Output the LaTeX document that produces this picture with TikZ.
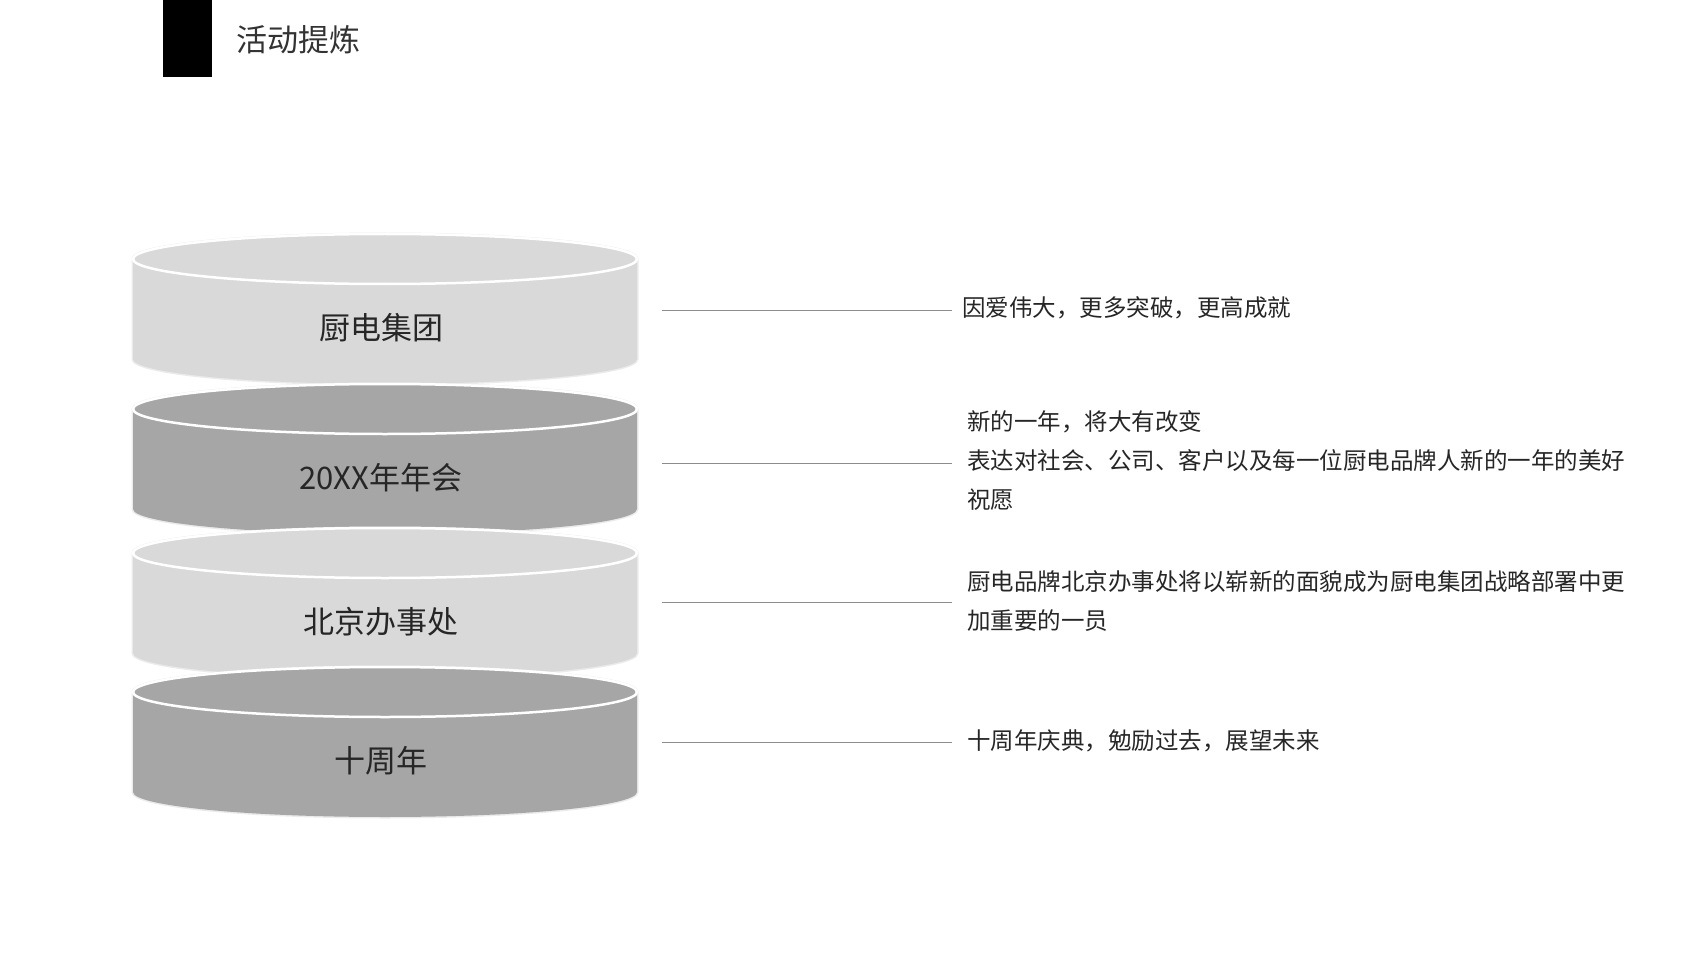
\documentclass[tikz,border=0pt]{standalone}
\usepackage{fontspec}
\setmainfont{Noto Sans CJK SC}
\begin{document}
\begin{tikzpicture}[x=1pt,y=-1pt,
  lbl/.style={font=\fontsize{31}{36}\selectfont,text=black!85},
  desc/.style={font=\fontsize{23.5}{39}\selectfont,text=black!85,anchor=north west,align=left,text width=760pt,inner sep=0pt},
  conn/.style={draw=black!45,line width=0.8pt}]
\useasboundingbox (0,0) rectangle (1706,960);
\fill[black] (163,0) rectangle (212,77);
\node[anchor=west,font=\fontsize{31}{36}\selectfont,text=black!80] (title) at (233,40) {活动提炼};
\foreach \yt/\c/\t/\n in {259/lite/厨电集团/c1, 409/dark/20XX年年会/c2, 553/lite/北京办事处/c3, 692/dark/十周年/c4}{
  \pgfmathsetmacro\yb{\yt+100}
  \def\fc{black!15}
  \ifnum\pdfstrcmp{\c}{dark}=0 \def\fc{black!35}\fi
  \draw[black!8,line width=3pt] (133,\yt) -- (133,\yb) arc[start angle=180,end angle=0,x radius=252,y radius=25] -- (637,\yt) arc[start angle=0,end angle=-180,x radius=252,y radius=25] -- cycle;
  \fill[\fc] (133,\yt) -- (133,\yb) arc[start angle=180,end angle=0,x radius=252,y radius=25] -- (637,\yt) -- cycle;
  \filldraw[fill=\fc,draw=white,line width=2.5pt] (385,\yt) ellipse[x radius=252,y radius=25];
  \node[lbl] (\n) at (381,\yt+69) {\t};
}
\node[desc] (d1) at (962,296) {因爱伟大，更多突破，更高成就};
\node[desc] (d2) at (967,410) {新的一年，将大有改变\\表达对社会、公司、客户以及每一位厨电品牌人新的一年的美好\\祝愿};
\node[desc] (d3) at (967,570) {厨电品牌北京办事处将以崭新的面貌成为厨电集团战略部署中更\\加重要的一员};
\node[desc] (d4) at (967,729) {十周年庆典，勉励过去，展望未来};
\coordinate (a1) at (662,310); \coordinate (b1) at (952,310);
\coordinate (a2) at (662,463); \coordinate (b2) at (952,463);
\coordinate (a3) at (662,602); \coordinate (b3) at (952,602);
\coordinate (a4) at (662,742); \coordinate (b4) at (952,742);
\foreach \i in {1,2,3,4}{\draw[conn] (a\i) -- (b\i);}
\end{tikzpicture}
\end{document}
